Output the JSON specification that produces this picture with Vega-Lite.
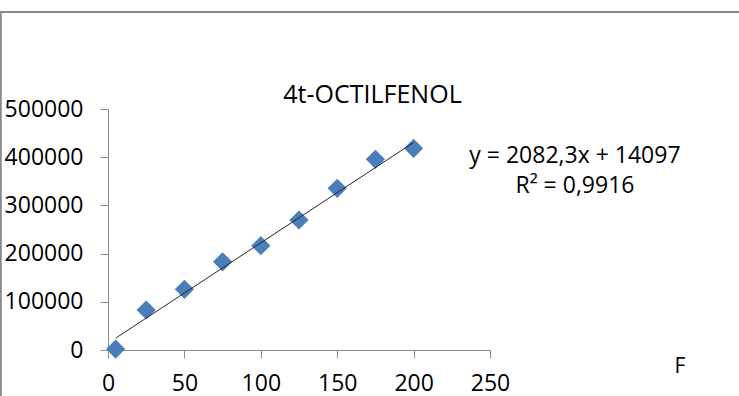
{
  "$schema": "https://vega.github.io/schema/vega-lite/v6.json",
  "width": 382,
  "height": 241,
  "autosize": {"type": "none"},
  "padding": {"left": 108, "top": 109, "right": 249, "bottom": 46},
  "background": "white",
  "config": {"view": {"stroke": null}, "font": "Open Sans"},
  "datasets": {
    "points": [
      {"conc": 5, "area": 2000},
      {"conc": 25, "area": 83000},
      {"conc": 50, "area": 126000},
      {"conc": 75, "area": 183000},
      {"conc": 100, "area": 216400},
      {"conc": 125, "area": 269700},
      {"conc": 150, "area": 335500},
      {"conc": 175, "area": 395600},
      {"conc": 200, "area": 418400}
    ],
    "trend": [
      {"conc": 5, "area": 24509},
      {"conc": 200, "area": 430557}
    ]
  },
  "layer": [
    {
      "data": {"name": "points"},
      "mark": {"type": "point", "shape": "diamond", "filled": true, "size": 370, "color": "#4a7ebb", "opacity": 1},
      "encoding": {
        "x": {
          "field": "conc", "type": "quantitative",
          "scale": {"domain": [0, 250], "nice": false, "zero": false},
          "axis": {
            "values": [0, 50, 100, 150, 200, 250], "grid": false, "title": null,
            "domainColor": "#8c8c8c", "tickColor": "#8c8c8c", "tickSize": 8,
            "labelFontSize": 23, "labelColor": "#000000", "labelPadding": 14,
            "labelFont": "Open Sans", "labelFlush": false
          }
        },
        "y": {
          "field": "area", "type": "quantitative",
          "scale": {"domain": [0, 500000], "nice": false, "zero": false},
          "axis": {
            "values": [0, 100000, 200000, 300000, 400000, 500000], "grid": false, "title": null,
            "format": "d", "domainColor": "#8c8c8c", "tickColor": "#8c8c8c", "tickSize": 8,
            "labelFontSize": 23, "labelColor": "#000000", "labelPadding": 17,
            "labelFont": "Open Sans", "labelFlush": false
          }
        }
      }
    },
    {
      "data": {"name": "trend"},
      "mark": {"type": "line", "color": "#262626", "strokeWidth": 1},
      "encoding": {
        "x": {"field": "conc", "type": "quantitative"},
        "y": {"field": "area", "type": "quantitative"}
      }
    },
    {
      "data": {"values": [{"label": "4t-OCTILFENOL"}]},
      "mark": {"type": "text", "font": "Open Sans", "fontSize": 25, "color": "#000000", "align": "center", "baseline": "alphabetic"},
      "encoding": {
        "x": {"datum": 173.1, "type": "quantitative"},
        "y": {"datum": 513000, "type": "quantitative"},
        "text": {"field": "label"}
      }
    },
    {
      "data": {"values": [{"label": "y = 2082,3x + 14097"}]},
      "mark": {"type": "text", "font": "Open Sans", "fontSize": 23, "color": "#000000", "align": "center", "baseline": "alphabetic"},
      "encoding": {
        "x": {"datum": 305.6, "type": "quantitative"},
        "y": {"datum": 387300, "type": "quantitative"},
        "text": {"field": "label"}
      }
    },
    {
      "data": {"values": [{"label": "R² = 0,9916"}]},
      "mark": {"type": "text", "font": "Open Sans", "fontSize": 23, "color": "#000000", "align": "center", "baseline": "alphabetic"},
      "encoding": {
        "x": {"datum": 305.6, "type": "quantitative"},
        "y": {"datum": 325100, "type": "quantitative"},
        "text": {"field": "label"}
      }
    },
    {
      "data": {"values": [{"label": "F"}]},
      "mark": {"type": "text", "font": "Open Sans", "fontSize": 21, "color": "#000000", "align": "center", "baseline": "alphabetic"},
      "encoding": {
        "x": {"datum": 374.3, "type": "quantitative"},
        "y": {"datum": -47700, "type": "quantitative"},
        "text": {"field": "label"}
      }
    },
    {
      "data": {"values": [{"frame": "chart area"}]},
      "mark": {"type": "rect", "fill": null, "stroke": "#878787", "strokeWidth": 2},
      "encoding": {
        "x": {"datum": -70.2, "type": "quantitative"},
        "x2": {"datum": 500},
        "y": {"datum": 701200, "type": "quantitative"},
        "y2": {"datum": -200000}
      }
    }
  ]
}
